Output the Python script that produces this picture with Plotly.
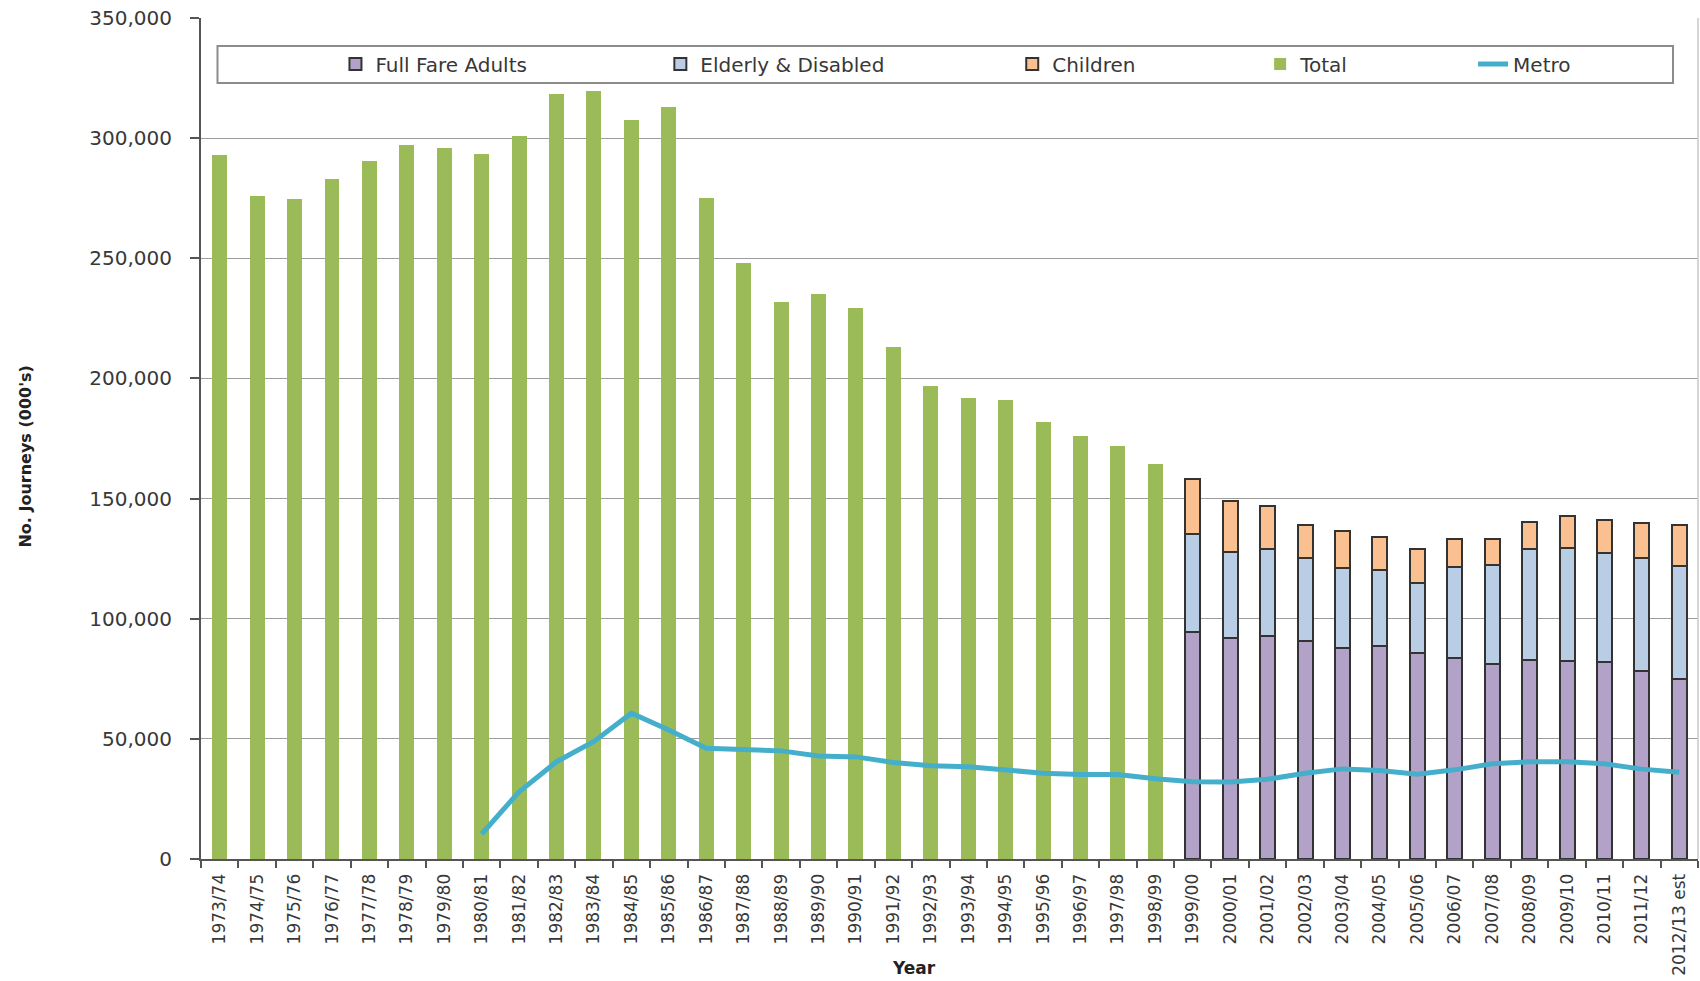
import plotly.graph_objects as go

# ---- data (thousands of journeys) ----
years = [
    "1973/74", "1974/75", "1975/76", "1976/77", "1977/78", "1978/79", "1979/80",
    "1980/81", "1981/82", "1982/83", "1983/84", "1984/85", "1985/86", "1986/87",
    "1987/88", "1988/89", "1989/90", "1990/91", "1991/92", "1992/93", "1993/94",
    "1994/95", "1995/96", "1996/97", "1997/98", "1998/99", "1999/00", "2000/01",
    "2001/02", "2002/03", "2003/04", "2004/05", "2005/06", "2006/07", "2007/08",
    "2008/09", "2009/10", "2010/11", "2011/12", "2012/13 est",
]

total = [
    293000, 276000, 274500, 283000, 290500, 297000, 296000, 293500, 301000,
    318500, 319500, 307500, 313000, 275000, 248000, 232000, 235000, 229500,
    213000, 197000, 192000, 191000, 182000, 176000, 172000, 164500,
] + [None] * 14

full_fare_adults = [None] * 26 + [
    94500, 91900, 92800, 90800, 87900, 88600, 85700, 83800, 81100, 83000,
    82500, 81800, 78300, 75000,
]
elderly_disabled = [None] * 26 + [
    40800, 35900, 36200, 34300, 33200, 31700, 29300, 37600, 41300, 46200,
    46800, 45600, 47000, 47100,
]
children = [None] * 26 + [
    22900, 21100, 18100, 14100, 15200, 13700, 14200, 11900, 10900, 11100,
    13500, 13700, 14400, 16900,
]

metro = [None] * 7 + [
    10400, 28000, 40500, 48900, 60700, 53700, 46100, 45400, 45000, 42900,
    42500, 40200, 38800, 38400, 37000, 35700, 35200, 35200, 33400, 32200,
    32000, 33200, 35700, 37500, 36800, 35300, 37100, 39600, 40500, 40500,
    39600, 37400, 36100,
]

y_ticks = [0, 50000, 100000, 150000, 200000, 250000, 300000, 350000]

# ---- page geometry (pixels) ----
W, H = 1700, 981
ML, MR, MT, MB = 200.5, 2, 18, 122
PW, PH = W - ML - MR, H - MT - MB


def px_x(x):
    return (x - ML) / PW


def px_y(y):
    return (H - MB - y) / PH


GREEN = "#9BBB59"
PURPLE = "#B3A2C7"
LIGHTBLUE = "#B9CDE5"
ORANGE = "#FAC090"
METRO = "#45AFCB"
EDGE = "#333333"
TEXT = "#383838"

fig = go.Figure()

fig.add_trace(go.Bar(
    x=years, y=full_fare_adults, name="Full Fare Adults", width=0.4,
    marker=dict(color=PURPLE, line=dict(color=EDGE, width=2)),
    legend="legend",
))
fig.add_trace(go.Bar(
    x=years, y=elderly_disabled, name="Elderly & Disabled", width=0.4,
    marker=dict(color=LIGHTBLUE, line=dict(color=EDGE, width=2)),
    legend="legend2",
))
fig.add_trace(go.Bar(
    x=years, y=children, name="Children", width=0.4,
    marker=dict(color=ORANGE, line=dict(color=EDGE, width=2)),
    legend="legend3",
))
fig.add_trace(go.Bar(
    x=years, y=total, name="Total", width=0.4,
    marker=dict(color=GREEN, line=dict(width=0)),
    legend="legend4",
))
fig.add_trace(go.Scatter(
    x=years, y=metro, name="Metro", mode="lines",
    line=dict(color=METRO, width=5),
    legend="legend5",
))

legend_font = dict(family="DejaVu Sans", size=20, color=TEXT)
legend_y = px_y(64)
text_starts = [375, 700, 1052, 1300, 1513]
legend_layout = {}
for i, ts in enumerate(text_starts):
    key = "legend" if i == 0 else f"legend{i + 1}"
    legend_layout[key] = dict(
        x=px_x(ts - 40), xanchor="left", y=legend_y, yanchor="middle",
        orientation="h", font=legend_font, bgcolor="rgba(0,0,0,0)",
        borderwidth=0,
    )

fig.update_layout(
    width=W, height=H,
    margin=dict(l=ML, r=MR, t=MT, b=MB),
    paper_bgcolor="white", plot_bgcolor="white",
    barmode="stack", bargap=0.6,
    showlegend=True,
    **legend_layout,
    xaxis=dict(
        type="category", categoryorder="array", categoryarray=years,
        tickangle=-90, tickfont=dict(family="DejaVu Sans", size=17, color=TEXT),
        showline=True, linecolor="#555555", linewidth=2,
        ticks="outside", tickson="boundaries", ticklen=7, tickcolor="#555555",
        tickwidth=1.5, showgrid=False, ticklabelstandoff=6,
        range=[-0.5, len(years) - 0.5],
    ),
    yaxis=dict(
        range=[0, 350000], tickvals=y_ticks, tickformat=",",
        tickfont=dict(family="DejaVu Sans", size=20, color=TEXT),
        showline=True, linecolor="#555555", linewidth=2,
        ticks="outside", ticklen=9, tickcolor="#555555", tickwidth=1.5,
        showgrid=True, gridcolor="#9C9C9C", gridwidth=1.3,
        zeroline=False, ticklabelstandoff=14,
    ),
    shapes=[
        # legend frame
        dict(type="rect", xref="paper", yref="paper",
             x0=px_x(217), x1=px_x(1673), y0=px_y(83), y1=px_y(46),
             line=dict(color="#8c8c8c", width=2), fillcolor="rgba(0,0,0,0)",
             layer="above"),
        # right border of plot area
        dict(type="line", xref="paper", yref="paper", x0=1, x1=1, y0=0, y1=1,
             line=dict(color="#C8C8C8", width=1.5)),
    ],
    annotations=[
        dict(text="No. Journeys (000's)", textangle=-90, showarrow=False,
             xref="paper", yref="paper", x=px_x(24), y=px_y(457),
             xanchor="center", yanchor="middle",
             font=dict(family="DejaVu Sans", size=16, color="#222222", weight="bold")),
        dict(text="Year", showarrow=False,
             xref="paper", yref="paper", x=px_x(914), y=px_y(968),
             xanchor="center", yanchor="middle",
             font=dict(family="DejaVu Sans", size=17, color="#222222", weight="bold")),
    ],
)

fig.write_html("out.html")
